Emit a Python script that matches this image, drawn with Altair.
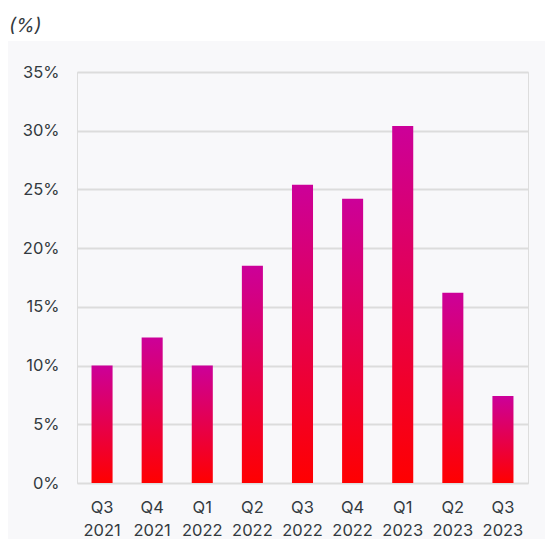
import altair as alt
import pandas as pd

quarters = ["Q3", "Q4", "Q1", "Q2", "Q3", "Q4", "Q1", "Q2", "Q3"]
years = ["2021", "2021", "2022", "2022", "2022", "2022", "2023", "2023", "2023"]
values = [10.0, 12.4, 10.0, 18.5, 25.4, 24.2, 30.4, 16.2, 7.4]
y_ticks = [0, 5, 10, 15, 20, 25, 30, 35]

labels = [f"{q}\n{y}" for q, y in zip(quarters, years)]
df = pd.DataFrame({"period": labels, "value": values})

FONT = "Inter"
TEXT = "#333a40"

top_white = alt.Chart(pd.DataFrame({"k": [0]})).mark_rect(color="white").encode(
    x=alt.value(-80), x2=alt.value(500), y=alt.value(-80), y2=alt.value(-31)
)

unit = alt.Chart(pd.DataFrame({"t": ["(%)"]})).mark_text(
    align="left", baseline="alphabetic", font=FONT, fontSize=19, fontStyle="italic", color=TEXT
).encode(x=alt.value(-68), y=alt.value(-40), text="t:N")

bars = alt.Chart(df).mark_bar(
    color=alt.Gradient(
        gradient="linear",
        stops=[alt.GradientStop(offset=0, color="#cc0099"), alt.GradientStop(offset=1, color="#ff0000")],
        x1=0, x2=0, y1=0, y2=1,
    )
).encode(
    x=alt.X("period:N", sort=labels, title=None,
            scale=alt.Scale(paddingInner=0.58, paddingOuter=0.29),
            axis=alt.Axis(labelAngle=0, labelExpr="split(datum.label, '\\n')", labelFont=FONT,
                          labelFontSize=16.5, labelColor=TEXT, labelLineHeight=23, labelPadding=16,
                          domain=False, ticks=False, labelBaseline="top")),
    y=alt.Y("value:Q", title=None, scale=alt.Scale(domain=[0, 35], nice=False),
            axis=alt.Axis(values=y_ticks, labelExpr="datum.value + '%'", labelFont=FONT,
                          labelFontSize=16.5, labelColor=TEXT, labelPadding=18, domain=False,
                          ticks=False, gridColor="#dcdcdc", gridWidth=2)),
)

chart = alt.layer(top_white, unit, bars).properties(
    width=451, height=411,
    autosize=alt.AutoSizeParams(type="none"),
    padding={"left": 69, "top": 64, "right": 17, "bottom": 56},
).configure_view(stroke=None).configure(background="#f8f8fa")

chart.save("out.html", embed_options={"renderer": "svg", "actions": False})
